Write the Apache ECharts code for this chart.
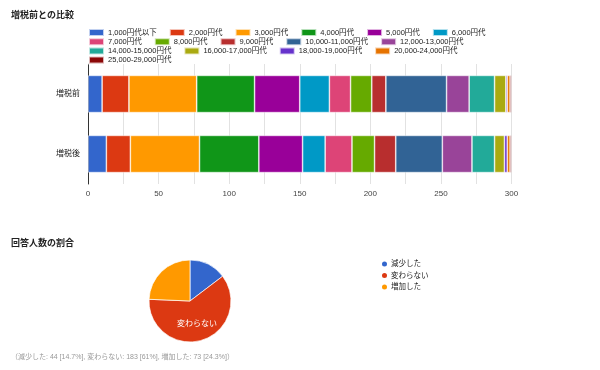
<!DOCTYPE html>
<html>
<head>
<meta charset="utf-8">
<script src="https://cdn.jsdelivr.net/npm/echarts@6/dist/echarts.min.js"></script>
<style>html,body{margin:0;padding:0;background:#fff}#c{width:600px;height:370px}</style>
</head>
<body>
<div id="c"></div>
<script>
var categories = ['増税前', '増税後'];
var bands = ['1,000円代以下','2,000円代','3,000円代','4,000円代','5,000円代','6,000円代',
  '7,000円代','8,000円代','9,000円代','10,000-11,000円代','12,000-13,000円代',
  '14,000-15,000円代','16,000-17,000円代','18,000-19,000円代','20,000-24,000円代',
  '25,000-29,000円代'];
var beforeTax = [10, 19, 48, 41, 32, 21, 15, 15, 10, 43, 16, 18, 8, 1, 2, 1];
var afterTax  = [13, 17, 49, 42, 31, 16, 19, 16, 15, 33, 21, 16, 7, 2, 2, 1];
var xTicks = [0, 50, 100, 150, 200, 250, 300];
var pieNames = ['減少した', '変わらない', '増加した'];
var pieValues = [44, 183, 73];
var pieNote = '（減少した: 44 [14.7%], 変わらない: 183 [61%], 増加した: 73 [24.3%]）';

var palette = ['#3366cc','#dc3912','#ff9900','#109618','#990099','#0099c6','#dd4477',
  '#66aa00','#b82e2e','#316395','#994499','#22aa99','#aaaa11','#6633cc','#e67300','#8b0707'];
var FF = "'Liberation Sans', 'Noto Sans CJK JP', sans-serif";

var barSeries = bands.map(function (name, i) {
  return {
    name: name, type: 'bar', stack: 'total', barWidth: '62%',
    itemStyle: { color: palette[i], borderColor: 'rgba(255,255,255,0.7)', borderWidth: 0.7 },
    data: [beforeTax[i], afterTax[i]]
  };
});

var legendRows = [[0,6],[6,11],[11,15],[15,16]];
var legends = legendRows.map(function (r, k) {
  return {
    data: bands.slice(r[0], r[1]),
    left: 88, top: 28 + k * 9.2, orient: 'horizontal',
    itemWidth: 15, itemHeight: 7, itemGap: 12, padding: 0,
    icon: 'rect', selectedMode: false,
    textStyle: { fontSize: 7.5, color: '#222', fontFamily: FF, padding: [0, 0, 0, -1] }
  };
});
legends.push({
  data: pieNames, left: 380, top: 259.5, orient: 'vertical',
  itemWidth: 7, itemHeight: 7, itemGap: 2.5, padding: 0, icon: 'circle', selectedMode: false,
  textStyle: { fontSize: 7.5, color: '#222', fontFamily: FF, padding: [0, 0, 0, -2] }
});

var chart = echarts.init(document.getElementById('c'));
chart.setOption({
  animation: false,
  textStyle: { fontFamily: FF },
  title: [
    { text: '増税前との比較', left: 11, top: 11, padding: 0,
      textStyle: { fontSize: 9, fontWeight: 'bold', color: '#222', fontFamily: FF } },
    { text: '回答人数の割合', left: 11, top: 239, padding: 0,
      textStyle: { fontSize: 9, fontWeight: 'bold', color: '#222', fontFamily: FF } },
    { text: pieNote, left: 11, top: 354, padding: 0,
      textStyle: { fontSize: 7, fontWeight: 'normal', color: '#999', fontFamily: FF } }
  ],
  legend: legends,
  grid: { left: 88, right: 88.5, top: 64, height: 120 },
  xAxis: {
    type: 'value', min: 0, max: 300, interval: 25,
    axisLine: { show: false }, axisTick: { show: false },
    splitLine: { lineStyle: { color: '#e2e2e2', width: 1 } },
    axisLabel: { fontSize: 8, color: '#444', margin: 6,
      formatter: function (v) { return xTicks.indexOf(v) >= 0 ? String(v) : ''; } }
  },
  yAxis: {
    type: 'category', data: categories, inverse: true,
    axisLine: { show: true, lineStyle: { color: '#333', width: 1 } },
    axisTick: { show: false },
    axisLabel: { fontSize: 8, color: '#222', margin: 8 }
  },
  series: barSeries.concat([{
    type: 'pie', center: [190, 301], radius: 41, startAngle: 90,
    label: { show: false }, labelLine: { show: false },
    itemStyle: { borderColor: '#fff', borderWidth: 0.7 },
    emphasis: { disabled: true },
    data: pieNames.map(function (n, i) {
      var d = { name: n, value: pieValues[i], itemStyle: { color: palette[i] } };
      if (i === 1) d.label = { show: true, position: 'inside', formatter: '{b}', color: '#fff', fontSize: 8 };
      return d;
    })
  }])
});
</script>
</body>
</html>
